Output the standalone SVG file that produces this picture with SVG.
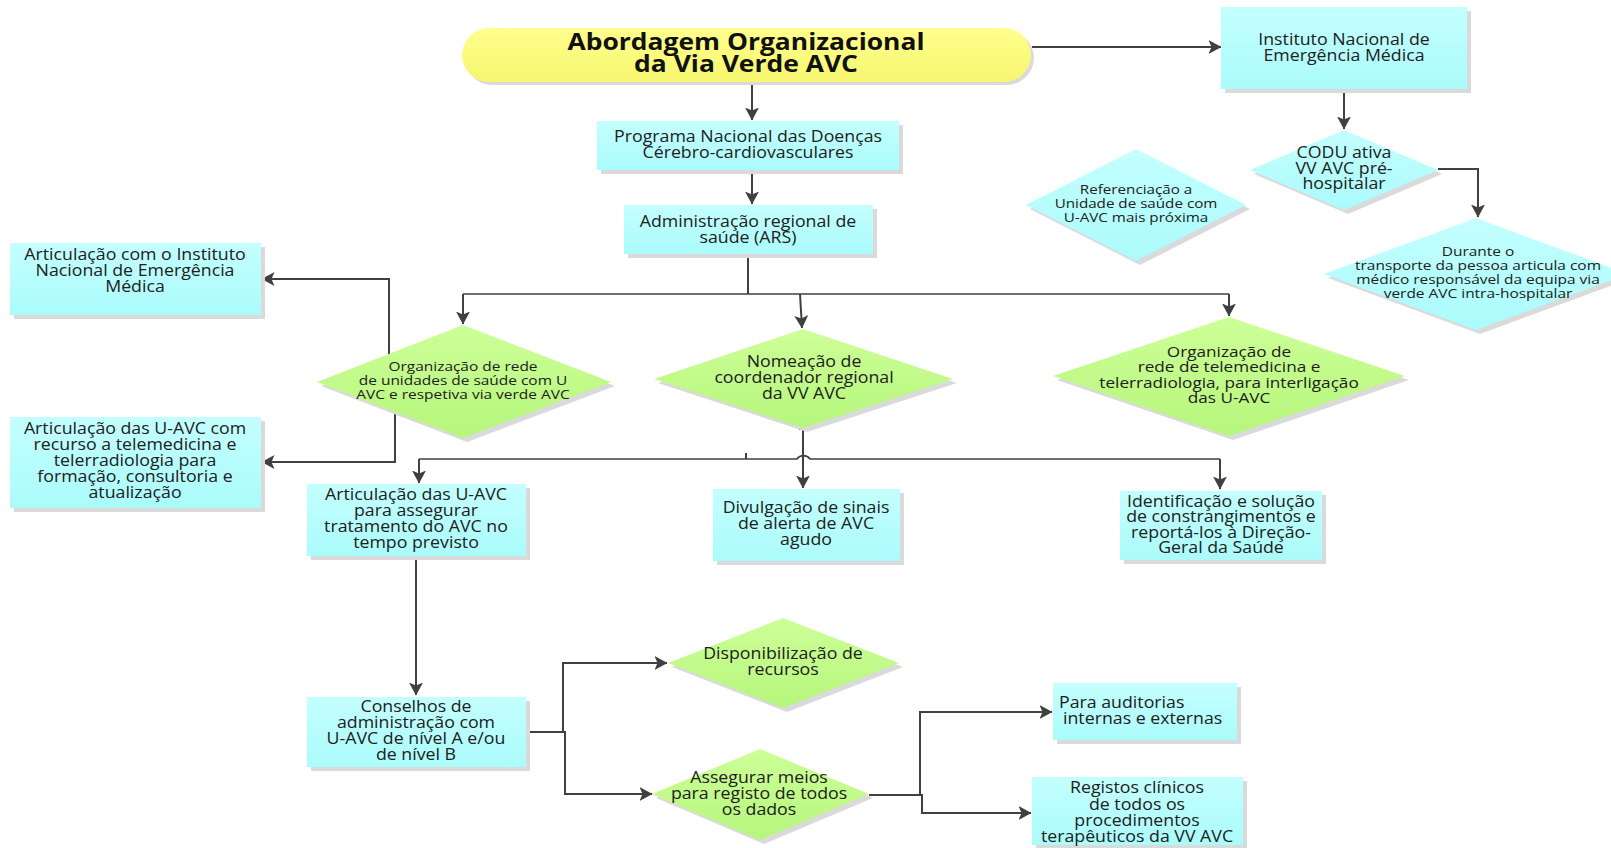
<svg xmlns="http://www.w3.org/2000/svg" width="1611" height="848" viewBox="0 0 1611 848">
<style>
.t{font-family:"Open Sans","Noto Sans","DejaVu Sans",sans-serif;fill:#202020;text-anchor:middle}
.f16{font-size:15.5px}
.f15{font-size:15px}
.f14{font-size:13.5px}
.f13{font-size:13px}
.ttl{font-size:23px;font-weight:bold;fill:#111}
.box{fill:url(#gC)}
.dg{fill:url(#gG)}
.dc{fill:url(#gC)}
.sh{fill:#dadada}
.c{fill:none;stroke:#404040;stroke-width:2}
.thin{stroke-width:1.7}
.a{marker-end:url(#ah)}
</style>
<defs>
<linearGradient id="gC" x1="0" y1="0" x2="0" y2="1"><stop offset="0" stop-color="#c4ffff"/><stop offset="1" stop-color="#abfbfb"/></linearGradient>
<linearGradient id="gG" x1="0" y1="0" x2="0" y2="1"><stop offset="0" stop-color="#cdff98"/><stop offset="1" stop-color="#b6f67c"/></linearGradient>
<linearGradient id="gY" x1="0" y1="0" x2="0" y2="1"><stop offset="0" stop-color="#ffff8c"/><stop offset="1" stop-color="#f6f670"/></linearGradient>
<marker id="ah" viewBox="0 0 13 14" refX="12.5" refY="7" markerWidth="13" markerHeight="14" markerUnits="userSpaceOnUse" orient="auto"><path d="M0,0 L13,7 L0,14 L3,7 z" fill="#404040"/></marker>
</defs>
<rect width="1611" height="848" fill="#ffffff"/>

<g id="connectors">
<path class="c a" d="M752,82 V120"/>
<path class="c a" d="M1032,47 H1221"/>
<path class="c a" d="M752,170 V204"/>
<path class="c a" d="M1344,89 V129"/>
<path class="c a" d="M1438,169 H1478 V217"/>
<path class="c" d="M748,254 V294"/>
<path class="c thin" d="M463,294 H1229"/>
<path class="c a" d="M463,294 V324"/>
<path class="c a" d="M800,294 L802,328"/>
<path class="c a" d="M1229,294 V316"/>
<path class="c a" d="M389,358 V279 H262"/>
<path class="c a" d="M395,407 V462 H262"/>
<path class="c a" d="M799,429 H803 V488"/>
<path class="c thin" d="M419,459 H797 A8,8 0 0 1 810,459 H1220"/>
<path class="c a" d="M419,459 V483"/>
<path class="c a" d="M1220,459 V489"/>
<path class="c" d="M746,453 V459"/>
<path class="c a" d="M416,556 V695"/>
<path class="c a" d="M516,732 H563 V663 H667"/>
<path class="c a" d="M563,732 H565 V794 H652"/>
<path class="c a" d="M869,795 H920 V712 H1052"/>
<path class="c a" d="M920,795 H922 V813 H1031"/>
</g>

<g id="n-title">
<rect class="sh" x="465" y="31" width="569" height="54" rx="27"/>
<rect x="462" y="28" width="569" height="54" rx="27" fill="url(#gY)"/>
<text class="t ttl" transform="translate(746 0) scale(1.149 1)"><tspan x="0" y="50">Abordagem Organizacional</tspan><tspan x="0" y="72">da Via Verde AVC</tspan></text>
</g>

<g id="n-inem">
<rect class="sh" x="1225" y="11" width="246" height="82"/>
<rect class="box" x="1221" y="7" width="246" height="82"/>
<text class="t f16" transform="translate(1344 0) scale(1.145 1)"><tspan x="0" y="45">Instituto Nacional de</tspan><tspan x="0" y="61">Emergência Médica</tspan></text>
</g>

<g id="n-programa">
<rect class="sh" x="601" y="125" width="302" height="49"/>
<rect class="box" x="597" y="121" width="302" height="49"/>
<text class="t f16" transform="translate(748 0) scale(1.145 1)"><tspan x="0" y="142">Programa Nacional das Doenças</tspan><tspan x="0" y="158">Cérebro-cardiovasculares</tspan></text>
</g>

<g id="n-ars">
<rect class="sh" x="628" y="209" width="249" height="49"/>
<rect class="box" x="624" y="205" width="249" height="49"/>
<text class="t f16" transform="translate(748 0) scale(1.145 1)"><tspan x="0" y="227">Administração regional de</tspan><tspan x="0" y="243">saúde (ARS)</tspan></text>
</g>

<g id="n-codu">
<polygon class="sh" points="1348,134 1442,174 1348,214 1254,174"/>
<polygon class="dc" points="1344,130 1438,170 1344,210 1250,170"/>
<text class="t f16" transform="translate(1344 0) scale(1.145 1)"><tspan x="0" y="158">CODU ativa</tspan><tspan x="0" y="174">VV AVC pré-</tspan><tspan x="0" y="189">hospitalar</tspan></text>
</g>

<g id="n-referenciacao">
<polygon class="sh" points="1140,153 1250,209 1140,265 1030,209"/>
<polygon class="dc" points="1136,149 1246,205 1136,261 1026,205"/>
<text class="t f13" transform="translate(1136 0) scale(1.17 1)"><tspan x="0" y="194">Referenciação a</tspan><tspan x="0" y="208">Unidade de saúde com</tspan><tspan x="0" y="222">U-AVC  mais próxima</tspan></text>
</g>

<g id="n-durante">
<polygon class="sh" points="1480,222 1632,278 1480,334 1328,278"/>
<polygon class="dc" points="1476,218 1628,274 1476,330 1324,274"/>
<text class="t f14" transform="translate(1478 0) scale(1.145 1)"><tspan x="0" y="256">Durante o</tspan><tspan x="0" y="270">transporte da pessoa articula com</tspan><tspan x="0" y="284">médico responsável  da equipa via</tspan><tspan x="0" y="298">verde AVC intra-hospitalar</tspan></text>
</g>

<g id="n-art-inem">
<rect class="sh" x="14" y="247" width="251" height="72"/>
<rect class="box" x="10" y="243" width="251" height="72"/>
<text class="t f16" transform="translate(135 0) scale(1.145 1)"><tspan x="0" y="260">Articulação com o Instituto</tspan><tspan x="0" y="276">Nacional de Emergência</tspan><tspan x="0" y="292">Médica</tspan></text>
</g>

<g id="n-art-telemed">
<rect class="sh" x="14" y="421" width="251" height="91"/>
<rect class="box" x="10" y="417" width="251" height="91"/>
<text class="t f16" transform="translate(135 0) scale(1.145 1)"><tspan x="0" y="434">Articulação das U-AVC com</tspan><tspan x="0" y="450">recurso a telemedicina e</tspan><tspan x="0" y="466">telerradiologia para</tspan><tspan x="0" y="482">formação, consultoria e</tspan><tspan x="0" y="498">atualização</tspan></text>
</g>

<g id="n-org-rede">
<polygon class="sh" points="467,329 615,386 467,442 321,386"/>
<polygon class="dg" points="463,325 611,382 463,438 317,382"/>
<text class="t f14" transform="translate(463 0) scale(1.145 1)"><tspan x="0" y="371">Organização de rede</tspan><tspan x="0" y="385">de unidades de saúde com U</tspan><tspan x="0" y="399">AVC e respetiva via verde AVC</tspan></text>
</g>

<g id="n-nomeacao">
<polygon class="sh" points="807,333 957,383 807,432 658,383"/>
<polygon class="dg" points="803,329 953,379 803,428 654,379"/>
<text class="t f16" transform="translate(804 0) scale(1.145 1)"><tspan x="0" y="367">Nomeação de</tspan><tspan x="0" y="383">coordenador regional</tspan><tspan x="0" y="399">da VV AVC</tspan></text>
</g>

<g id="n-org-telemed">
<polygon class="sh" points="1233,321 1409,380 1233,440 1057,380"/>
<polygon class="dg" points="1229,317 1405,376 1229,436 1053,376"/>
<text class="t f15" transform="translate(1229 0) scale(1.145 1)"><tspan x="0" y="357">Organização de</tspan><tspan x="0" y="372">rede  de telemedicina e</tspan><tspan x="0" y="388">telerradiologia, para interligação</tspan><tspan x="0" y="403">das U-AVC</tspan></text>
</g>

<g id="n-art-assegurar">
<rect class="sh" x="311" y="488" width="219" height="72"/>
<rect class="box" x="307" y="484" width="219" height="72"/>
<text class="t f16" transform="translate(416 0) scale(1.145 1)"><tspan x="0" y="500">Articulação das U-AVC</tspan><tspan x="0" y="516">para assegurar</tspan><tspan x="0" y="532">tratamento do AVC no</tspan><tspan x="0" y="548">tempo previsto</tspan></text>
</g>

<g id="n-divulgacao">
<rect class="sh" x="717" y="493" width="187" height="72"/>
<rect class="box" x="713" y="489" width="187" height="72"/>
<text class="t f16" transform="translate(806 0) scale(1.145 1)"><tspan x="0" y="513">Divulgação de sinais</tspan><tspan x="0" y="529">de alerta de AVC</tspan><tspan x="0" y="545">agudo</tspan></text>
</g>

<g id="n-identificacao">
<rect class="sh" x="1124" y="495" width="202" height="69"/>
<rect class="box" x="1120" y="491" width="202" height="69"/>
<text class="t f16" transform="translate(1221 0) scale(1.145 1)"><tspan x="0" y="507">Identificação e solução</tspan><tspan x="0" y="522">de constrangimentos e</tspan><tspan x="0" y="538">reportá-los à Direção-</tspan><tspan x="0" y="553">Geral da Saúde</tspan></text>
</g>

<g id="n-conselhos">
<rect class="sh" x="311" y="701" width="219" height="70"/>
<rect class="box" x="307" y="697" width="219" height="70"/>
<text class="t f16" transform="translate(416 0) scale(1.145 1)"><tspan x="0" y="712">Conselhos de</tspan><tspan x="0" y="728">administração com</tspan><tspan x="0" y="744">U-AVC de nível A e/ou</tspan><tspan x="0" y="760">de nível B</tspan></text>
</g>

<g id="n-disponibilizacao">
<polygon class="sh" points="787,622 903,667 787,712 672,667"/>
<polygon class="dg" points="783,618 899,663 783,708 668,663"/>
<text class="t f16" transform="translate(783 0) scale(1.145 1)"><tspan x="0" y="659">Disponibilização de</tspan><tspan x="0" y="675">recursos</tspan></text>
</g>

<g id="n-assegurar">
<polygon class="sh" points="764,753 873,798 764,844 656,798"/>
<polygon class="dg" points="760,749 869,794 760,840 652,794"/>
<text class="t f16" transform="translate(759 0) scale(1.145 1)"><tspan x="0" y="783">Assegurar meios</tspan><tspan x="0" y="799">para registo de todos</tspan><tspan x="0" y="815">os dados</tspan></text>
</g>

<g id="n-auditorias">
<rect class="sh" x="1057" y="687" width="184" height="57"/>
<rect class="box" x="1053" y="683" width="184" height="57"/>
<text class="t f16" style="text-anchor:start" transform="translate(1059 0) scale(1.145 1)"><tspan x="0" y="708">Para auditorias</tspan><tspan x="3.5" y="724">internas e externas</tspan></text>
</g>

<g id="n-registos">
<rect class="sh" x="1036" y="781" width="211" height="68"/>
<rect class="box" x="1032" y="777" width="211" height="68"/>
<text class="t f16" transform="translate(1137 0) scale(1.145 1)"><tspan x="0" y="793">Registos clínicos</tspan><tspan x="0" y="810">de todos os</tspan><tspan x="0" y="826">procedimentos</tspan><tspan x="0" y="842">terapêuticos da VV AVC</tspan></text>
</g>
</svg>
